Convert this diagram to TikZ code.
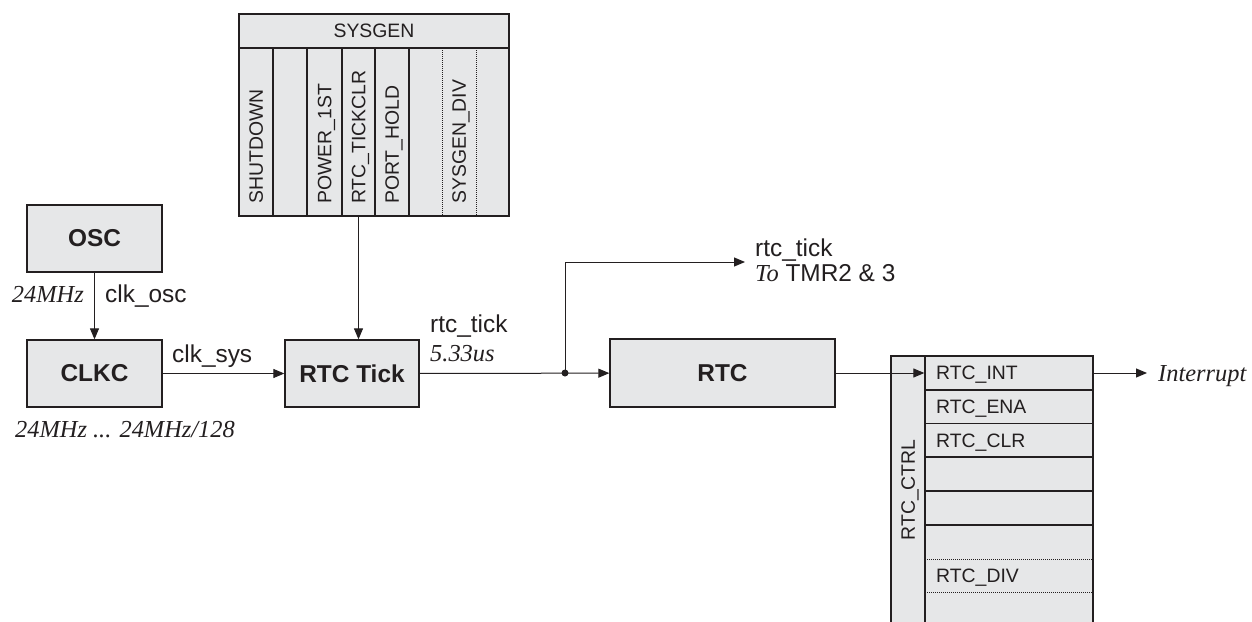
\documentclass[tikz,border=0pt]{standalone}
\usepackage{fontspec}
\setmainfont{Liberation Sans}
\newfontfamily\timesfont{Liberation Serif}
\usetikzlibrary{arrows.meta}
\definecolor{boxfill}{HTML}{E6E7E8}
\definecolor{ink}{HTML}{231F20}
\newcommand{\bigf}{\fontsize{24.4}{29}\selectfont}
\newcommand{\regf}{\fontsize{19.4}{23}\selectfont}
\newcommand{\itf}{\timesfont\itshape\fontsize{24.4}{29}\selectfont}
\tikzset{
  blk/.style={draw=ink, line width=1.3pt, fill=boxfill, inner sep=0pt, font=\bigf\bfseries, text=ink},
  cell/.style={draw=ink, line width=1.3pt, fill=boxfill, inner sep=0pt},
  regtxt/.style={font=\regf, text=ink, inner sep=0pt, text height=13.9pt, text depth=0pt},
  lbl/.style={font=\bigf, text=ink, inner sep=0pt},
  itl/.style={font=\itf, text=ink, inner sep=0pt},
  conn/.style={draw=ink, line width=1pt, -{Triangle[length=11pt,width=9pt]}},
  dotline/.style={draw=ink, line width=0.9pt, dash pattern=on 1pt off 1pt},
}
\begin{document}
\begin{tikzpicture}[x=1pt,y=-1pt]
\useasboundingbox (0,0) rectangle (1252,621);
\fill[white] (0,0) rectangle (1252,621);

% main blocks
\node[blk, minimum width=135pt, minimum height=67pt] (osc) at (94.5,238.5) {OSC};
\node[blk, minimum width=135pt, minimum height=67pt] (clkc) at (94.5,373.5) {CLKC};
\node[blk, minimum width=134pt, minimum height=67pt] (tick) at (352,373.5) {RTC Tick};
\node[blk, minimum width=225pt, minimum height=68pt] (rtc) at (722.5,373) {RTC};

% SYSGEN register
\node[cell, minimum width=270pt, minimum height=34pt, font=\regf, text=ink] (sysgen) at (374,31) {SYSGEN};
\node[cell, minimum width=34pt, minimum height=168pt] (sg1) at (256,132) {};
\node[cell, minimum width=34pt, minimum height=168pt] (sg2) at (290,132) {};
\node[cell, minimum width=35pt, minimum height=168pt] (sg3) at (324.5,132) {};
\node[cell, minimum width=33pt, minimum height=168pt] (sg4) at (358.5,132) {};
\node[cell, minimum width=34pt, minimum height=168pt] (sg5) at (392,132) {};
\node[cell, minimum width=100pt, minimum height=168pt] (sg6) at (459,132) {};
\draw[dotline] (442,48) -- (442,216);
\draw[dotline] (476,48) -- (476,216);
\node[regtxt, rotate=90, anchor=west] at (256,204) {SHUTDOWN};
\node[regtxt, rotate=90, anchor=west] at (324.5,204) {POWER\_1ST};
\node[regtxt, rotate=90, anchor=west] at (358.5,204) {RTC\_TICKCLR};
\node[regtxt, rotate=90, anchor=west] at (392,204) {PORT\_HOLD};
\node[regtxt, rotate=90, anchor=west] at (459,204) {SYSGEN\_DIV};

% RTC_CTRL register
\draw[draw=ink, line width=1.3pt, fill=boxfill] (891,625) -- (891,356) -- (1093,356) -- (1093,625);
\draw[draw=ink, line width=1.3pt] (925,356) -- (925,625);
\node[regtxt, rotate=90] (ctrl) at (908,490) {RTC\_CTRL};
\tikzset{row/.style={draw=ink, line width=1.3pt, fill=boxfill, inner sep=0pt, minimum width=168pt, minimum height=34pt}}
\node[row] (r1) at (1009,373) {};
\node[row] (r2) at (1009,407) {};
\node[row] (r3) at (1009,440.5) {};
\node[row] (r4) at (1009,474) {};
\node[row] (r5) at (1009,508) {};
\draw[dotline] (925,559) -- (1093,559);
\draw[dotline] (925,592) -- (1093,592);
\node[regtxt, anchor=west] at (936,373) {RTC\_INT};
\node[regtxt, anchor=west] at (936,407) {RTC\_ENA};
\node[regtxt, anchor=west] at (936,440.5) {RTC\_CLR};
\node[regtxt, anchor=west] at (936,575.5) {RTC\_DIV};

% connectors
\coordinate (j) at (565,373);
\coordinate (tmr) at (745,262);
\coordinate (irq) at (1147,373);
\draw[conn] (osc) -- (clkc);
\draw[conn] (clkc) -- (tick);
\draw[conn] (sg4.south) -- (sg4.south |- tick.north);
\draw[conn] (tick) -- (rtc);
\draw[conn] (j) |- (tmr);
\fill[ink] (j) circle (3.5pt);
\draw[conn] (rtc.east) -- (r1.west);
\draw[conn] (r1.east) -- (irq);

% labels
\node[itl, anchor=base east] at (84,302) {24MHz};
\node[lbl, anchor=base west] at (105,302) {clk\_osc};
\node[lbl, anchor=base west] at (172,362) {clk\_sys};
\node[itl, anchor=base west] at (15,437) {24MHz ... 24MHz/128};
\node[lbl, anchor=base west] at (430,332) {rtc\_tick};
\node[itl, anchor=base west] at (430,361) {5.33us};
\node[lbl, anchor=base west] at (755,256) {rtc\_tick};
\node[lbl, anchor=base west] at (755,281) {{\itf To} TMR2 \& 3};
\node[itl, anchor=base west] at (1158,381) {Interrupt};
\end{tikzpicture}
\end{document}
